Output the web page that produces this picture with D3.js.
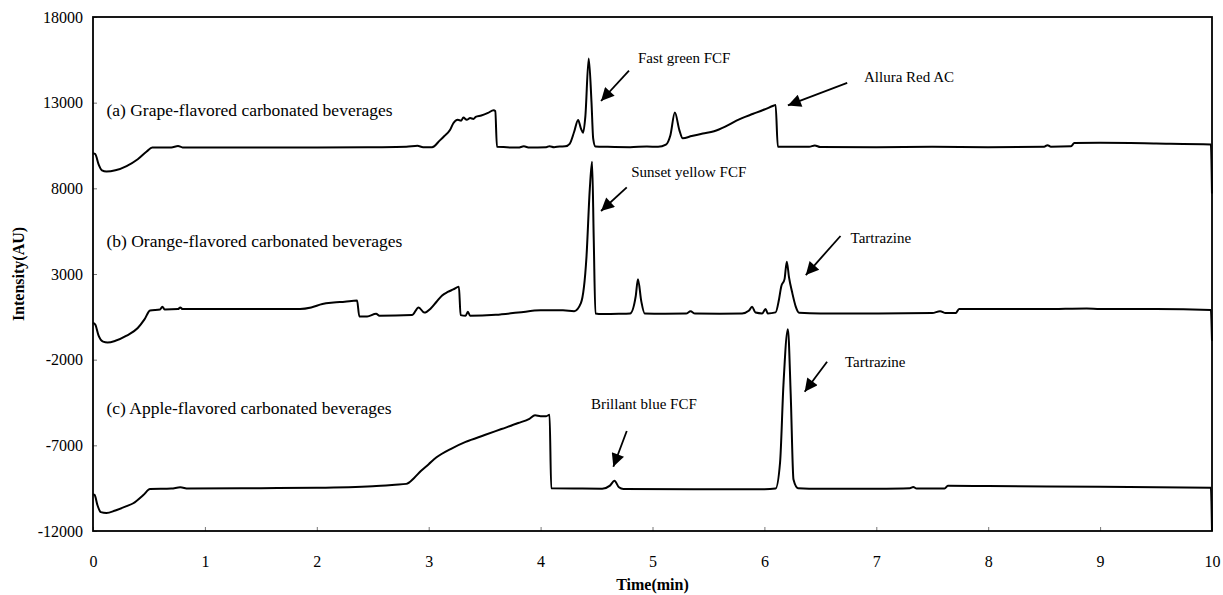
<!DOCTYPE html>
<html>
<head>
<meta charset="utf-8">
<script src="https://cdn.jsdelivr.net/npm/d3@7/dist/d3.min.js"></script>
<style>
  html, body { margin: 0; padding: 0; background: #fff; }
  svg { display: block; }
  text { font-family: "Liberation Serif", "Times New Roman", serif; fill: #000; }
</style>
</head>
<body>
<svg id="chart" width="1223" height="595"></svg>
<script>
// ---------- DATA ----------
const timeTicks = [0, 1, 2, 3, 4, 5, 6, 7, 8, 9, 10];
const intensityTicks = [18000, 13000, 8000, 3000, -2000, -7000, -12000];

// (a) Grape-flavored
const timesA = [0.00,0.02,0.05,0.08,0.12,0.20,0.30,0.40,0.48,0.53,0.70,0.76,0.80,1.50,2.00,2.50,2.80,2.90,2.95,3.03,3.10,3.14,3.19,3.22,3.26,3.29,3.31,3.34,3.37,3.40,3.42,3.47,3.53,3.58,3.595,3.61,3.80,3.85,3.90,4.05,4.08,4.12,4.17,4.22,4.26,4.30,4.335,4.36,4.38,4.40,4.43,4.455,4.47,4.49,4.60,4.80,4.95,5.05,5.12,5.16,5.20,5.24,5.27,5.35,5.45,5.55,5.65,5.75,5.80,5.90,6.00,6.08,6.10,6.12,6.40,6.45,6.50,7.00,7.50,8.00,8.50,8.53,8.56,8.74,8.77,9.00,9.50,9.99,10.00];
const valuesA = [10050,10000,9400,9050,8980,9050,9300,9700,10150,10380,10390,10470,10390,10380,10380,10400,10420,10480,10400,10400,10800,11050,11400,11800,12000,11950,12130,12000,12100,12050,12170,12250,12400,12560,12500,10420,10380,10450,10380,10400,10460,10400,10440,10450,10600,11300,11990,11500,11250,12200,15580,13000,10900,10440,10420,10400,10440,10420,10550,11100,12420,11400,10920,11050,11200,11330,11600,11950,12100,12350,12600,12820,12870,10430,10420,10500,10410,10400,10420,10400,10430,10520,10430,10450,10650,10660,10620,10560,7700];

// (b) Orange-flavored
const timesB = [0.00,0.02,0.05,0.09,0.13,0.20,0.30,0.40,0.46,0.51,0.60,0.62,0.64,0.76,0.78,0.80,1.00,1.50,1.85,1.95,2.05,2.15,2.25,2.36,2.38,2.45,2.53,2.56,2.85,2.91,2.96,3.02,3.07,3.12,3.17,3.22,3.27,3.285,3.33,3.35,3.37,3.60,3.80,4.00,4.20,4.30,4.36,4.41,4.44,4.46,4.475,4.49,4.55,4.70,4.80,4.85,4.87,4.90,4.93,5.10,5.30,5.34,5.38,5.60,5.80,5.86,5.89,5.92,5.98,6.01,6.03,6.10,6.13,6.15,6.18,6.20,6.22,6.25,6.28,6.31,6.50,7.00,7.50,7.57,7.62,7.71,7.74,8.00,8.50,8.88,9.00,9.50,9.99,10.00];
const valuesB = [150,50,-600,-950,-1000,-900,-600,-150,350,870,930,1090,930,950,1050,950,950,950,960,1050,1250,1330,1380,1450,520,520,680,560,600,1050,750,1000,1380,1750,1950,2100,2250,600,560,800,560,620,750,880,880,830,1300,4000,8000,9550,5000,700,670,680,700,1700,2690,1400,700,680,690,820,690,680,690,850,1090,750,700,960,700,760,1500,2260,2700,3720,2800,1870,1100,740,700,700,720,830,720,720,960,960,950,990,950,950,900,-900];

// (c) Apple-flavored
const timesC = [0.00,0.015,0.04,0.07,0.12,0.20,0.30,0.36,0.45,0.51,0.70,0.78,0.85,1.50,2.00,2.50,2.70,2.80,2.87,2.93,3.00,3.07,3.20,3.33,3.50,3.65,3.80,3.90,3.95,4.00,4.05,4.08,4.095,4.30,4.55,4.62,4.66,4.70,4.74,5.50,6.00,6.10,6.14,6.17,6.21,6.235,6.26,6.30,6.50,7.00,7.30,7.33,7.36,7.61,7.64,8.00,9.00,9.99,10.00];
const valuesC = [-9850,-9900,-10500,-10900,-10950,-10800,-10550,-10380,-9900,-9550,-9520,-9450,-9520,-9500,-9480,-9390,-9300,-9250,-8900,-8500,-8100,-7700,-7200,-6800,-6400,-6050,-5700,-5450,-5250,-5300,-5300,-5220,-9510,-9520,-9530,-9350,-9070,-9450,-9550,-9560,-9560,-9520,-8000,-3500,-220,-4000,-9000,-9500,-9540,-9530,-9500,-9430,-9520,-9520,-9360,-9380,-9420,-9480,-12000];

const sampleLabels = ["(a) Grape-flavored carbonated beverages", "(b) Orange-flavored carbonated beverages", "(c) Apple-flavored carbonated beverages"];
const sampleLabelTime = [0.12, 0.12, 0.12];
const sampleLabelValue = [12600, 4950, -4850];

const peakNames = ["Fast green FCF", "Allura Red AC", "Sunset yellow FCF", "Tartrazine", "Brillant blue FCF", "Tartrazine"];
const peakTextTime = [4.87, 6.89, 4.81, 6.77, 4.45, 6.72];
const peakTextValue = [15607, 14500, 8970, 5100, -4600, -2120];
const arrowFromTime = [4.79, 6.74, 4.77, 6.68, 4.77, 6.56];
const arrowFromValue = [14866, 14159, 8060, 5217, -6165, -2120];
const arrowToTime = [4.54, 6.21, 4.54, 6.37, 4.65, 6.36];
const arrowToValue = [13097, 12840, 6676, 2940, -8250, -3870];

// ---------- CHART ----------
const W = 1223, H = 595;
const m = { left: 93, right: 11, top: 17, bottom: 64 };
const svg = d3.select("#chart");

const x = d3.scaleLinear().domain([0, 10]).range([m.left, W - m.right]);
const y = d3.scaleLinear().domain([-12000, 18000]).range([H - m.bottom, m.top]);

// axes
const xAxis = d3.axisBottom(x).tickValues(timeTicks).tickFormat(d3.format("d"))
  .tickSizeInner(-4).tickSizeOuter(0).tickPadding(25);
const yAxis = d3.axisLeft(y).tickValues(intensityTicks).tickFormat(d => String(d))
  .tickSizeInner(-4).tickSizeOuter(0).tickPadding(10);

const gx = svg.append("g").attr("transform", `translate(0,${y(-12000)})`).call(xAxis);
const gy = svg.append("g").attr("transform", `translate(${x(0)},0)`).call(yAxis);
[gx, gy].forEach(g => {
  g.select(".domain").remove();
  g.selectAll(".tick line").attr("stroke", "#777").attr("stroke-width", 1);
  g.selectAll(".tick text").style("font-family", "'Liberation Serif', 'Times New Roman', serif")
    .style("font-size", "16px").attr("fill", "#000");
});

// frame
svg.append("rect")
  .attr("x", x(0)).attr("y", y(18000))
  .attr("width", x(10) - x(0)).attr("height", y(-12000) - y(18000))
  .attr("fill", "none").attr("stroke", "#000").attr("stroke-width", 1.8);

// traces
const line = d3.line().x(d => x(d[0])).y(d => y(d[1])).curve(d3.curveMonotoneX);
const series = [[timesA, valuesA], [timesB, valuesB], [timesC, valuesC]];
series.forEach(([ts, vs]) => {
  svg.append("path")
    .datum(ts.map((t, i) => [t, vs[i]]))
    .attr("fill", "none").attr("stroke", "#000").attr("stroke-width", 2)
    .attr("stroke-linejoin", "round")
    .attr("d", line);
});

// sample labels
sampleLabels.forEach((s, i) => {
  svg.append("text")
    .attr("x", x(sampleLabelTime[i])).attr("y", y(sampleLabelValue[i]))
    .attr("dominant-baseline", "central")
    .style("font-size", "17.5px")
    .text(s);
});

// arrows + peak names
const defs = svg.append("defs");
defs.append("marker").attr("id", "ah")
  .attr("viewBox", "0 0 10 10").attr("refX", 10).attr("refY", 5)
  .attr("markerUnits", "userSpaceOnUse")
  .attr("markerWidth", 17).attr("markerHeight", 13)
  .attr("orient", "auto")
  .append("path").attr("d", "M0,0 L10,5 L0,10 Z").attr("fill", "#000");

peakNames.forEach((n, i) => {
  svg.append("line")
    .attr("x1", x(arrowFromTime[i])).attr("y1", y(arrowFromValue[i]))
    .attr("x2", x(arrowToTime[i])).attr("y2", y(arrowToValue[i]))
    .attr("stroke", "#000").attr("stroke-width", 1.8)
    .attr("marker-end", "url(#ah)");
  svg.append("text")
    .attr("x", x(peakTextTime[i])).attr("y", y(peakTextValue[i]))
    .attr("dominant-baseline", "central")
    .style("font-size", "15px")
    .text(n);
});

// axis titles
svg.append("text")
  .attr("transform", `translate(18,${(y(18000) + y(-12000)) / 2}) rotate(-90)`)
  .attr("text-anchor", "middle").attr("dominant-baseline", "central")
  .style("font-size", "16px").style("font-weight", "bold")
  .text("Intensity(AU)");
svg.append("text")
  .attr("x", x(5)).attr("y", 584)
  .attr("text-anchor", "middle").attr("dominant-baseline", "central")
  .style("font-size", "16px").style("font-weight", "bold")
  .text("Time(min)");
</script>
</body>
</html>
